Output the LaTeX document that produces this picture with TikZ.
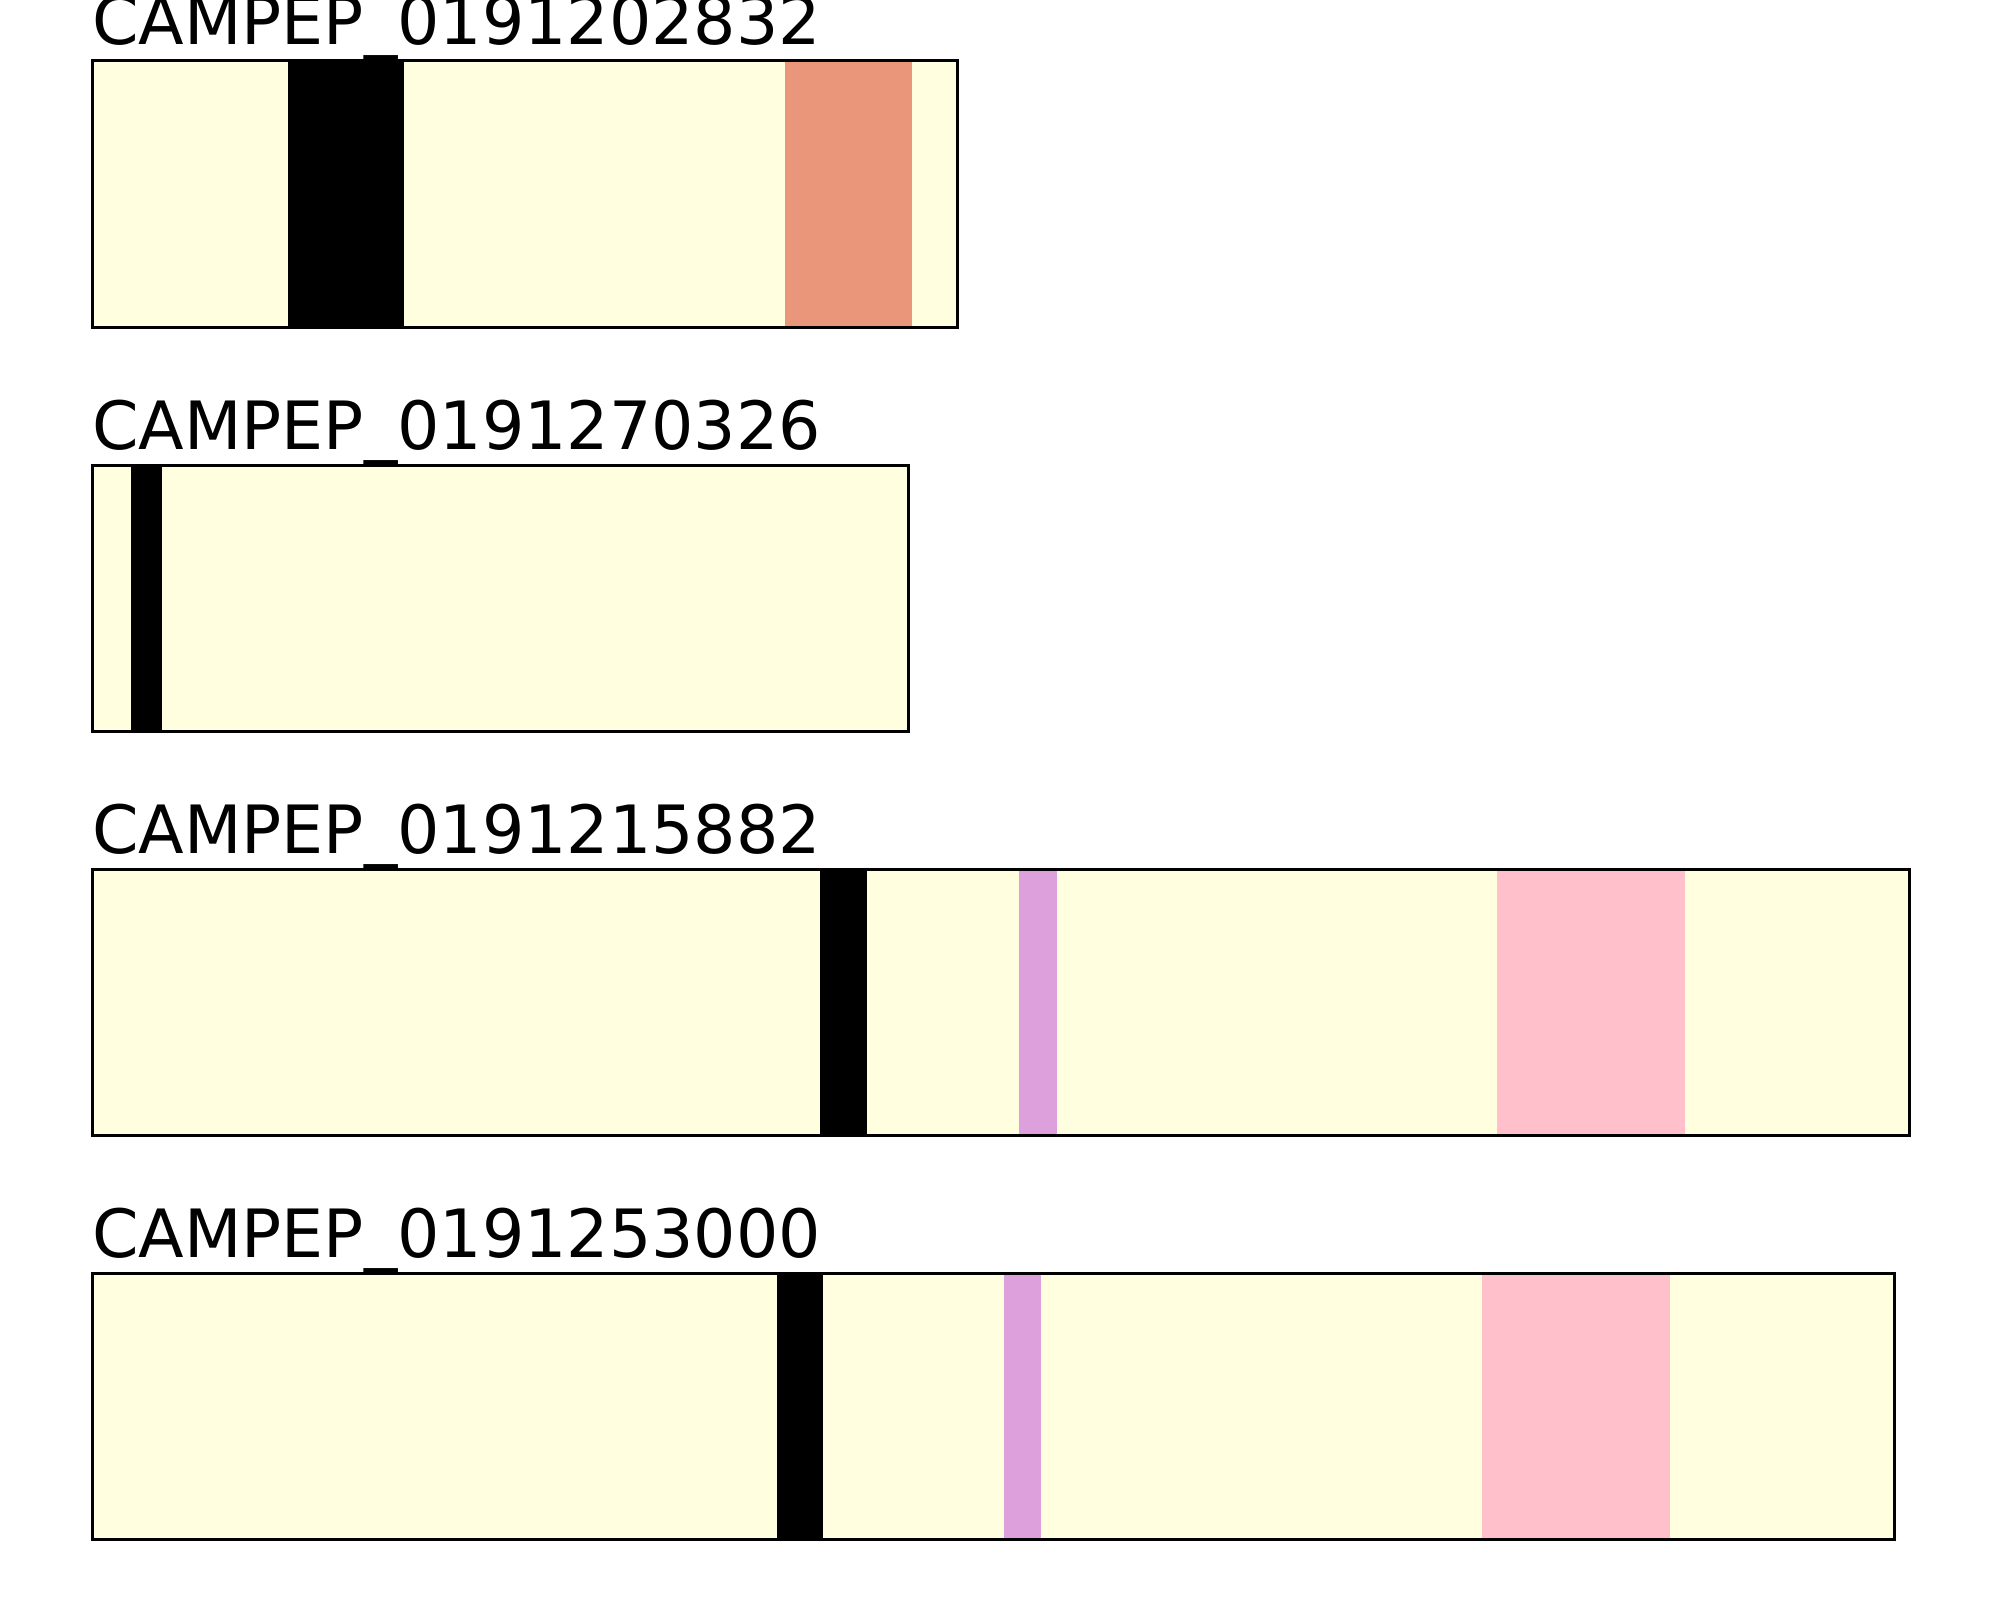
\documentclass[tikz,border=0pt]{standalone}
\usepackage{fontspec}
\setmainfont{DejaVu Sans}
\usepackage{tikz}
\usetikzlibrary{positioning}
\usepackage{xcolor}
\definecolor{seqbg}{HTML}{FFFFE0}
\definecolor{dsalmon}{HTML}{E9967A}
\definecolor{plumband}{HTML}{DDA0DD}
\definecolor{pinkband}{HTML}{FFC0CB}

\begin{document}
\begin{tikzpicture}[x=1pt, y=-1pt,
    track/.style={draw=black, line width=3pt},
    tag/.style={anchor=base west, inner sep=0pt, font=\fontsize{66.6}{80}\selectfont}]
  \useasboundingbox (0,0) rectangle (2000,1600);
  % first sequence
  \fill[seqbg] (92,61) rectangle (957,327);
  \fill[black] (288,61) rectangle (404,327);
  \fill[dsalmon] (785,61) rectangle (912,327);
  \draw[track] (92,61) rectangle (957,327);
  \node[tag] (id1) at (92,45) {CAMPEP\_0191202832};
  % second sequence
  \fill[seqbg] (92,465) rectangle (908,731);
  \fill[black] (131,465) rectangle (162,731);
  \draw[track] (92,465) rectangle (908,731);
  \node[tag] (id2) at (92,449) {CAMPEP\_0191270326};
  % third sequence
  \fill[seqbg] (92,869) rectangle (1909,1135);
  \fill[black] (820,869) rectangle (867,1135);
  \fill[plumband] (1019,869) rectangle (1057,1135);
  \fill[pinkband] (1497,869) rectangle (1685,1135);
  \draw[track] (92,869) rectangle (1909,1135);
  \node[tag] (id3) at (92,853) {CAMPEP\_0191215882};
  % fourth sequence
  \fill[seqbg] (92,1273) rectangle (1894,1539);
  \fill[black] (777,1273) rectangle (823,1539);
  \fill[plumband] (1004,1273) rectangle (1041,1539);
  \fill[pinkband] (1482,1273) rectangle (1670,1539);
  \draw[track] (92,1273) rectangle (1894,1539);
  \node[tag] (id4) at (92,1257) {CAMPEP\_0191253000};
\end{tikzpicture}
\end{document}
